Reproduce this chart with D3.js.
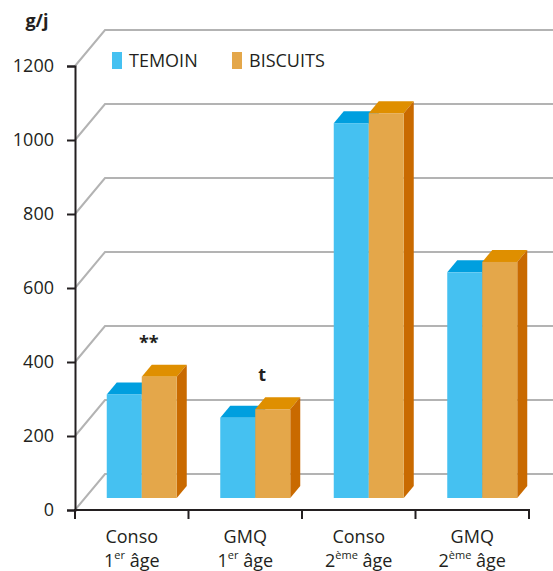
<!DOCTYPE html>
<html>
<head>
<meta charset="utf-8">
<script src="https://cdn.jsdelivr.net/npm/d3@7"></script>
<style>
  body { margin: 0; background: white; }
  text { font-family: 'Open Sans', sans-serif; fill: #231f20; }
</style>
</head>
<body>
<div id="chart"></div>
<script>
// chart data
const catLine1 = ['Conso', 'GMQ', 'Conso', 'GMQ'];
const catNum = ['1', '1', '2', '2'];
const catSup = ['er', 'er', 'ème', 'ème'];
const series = ['TEMOIN', 'BISCUITS'];
const temoin = [280, 217, 1013, 610];
const biscuits = [328, 240, 1040, 638];
const marks = ['**', 't', '', ''];
const yTicks = [0, 200, 400, 600, 800, 1000, 1200];

const width = 553;
const height = 571;
const left = 75;
const right = 529;
const wallDx = 30;
const wallDy = -36;
const barDx = 10;
const barDy = -12;

const colors = {
  TEMOIN: { front: '#45c1f1', top: '#009fdf', side: '#0088c4' },
  BISCUITS: { front: '#e4a74a', top: '#df8f00', side: '#c96a00' }
};

const svg = d3.select('#chart').append('svg')
  .attr('width', width)
  .attr('height', height);

const y = d3.scaleLinear().domain([0, 1200]).range([510, 66]);
const x = d3.scaleBand().domain(d3.range(catLine1.length)).range([left, right]);
const xs = d3.scaleBand().domain(series).range([0, 70]);

// back wall grid
const grid = svg.append('g')
  .attr('stroke', '#b3b3b3')
  .attr('stroke-width', 2)
  .attr('fill', 'none');
for (const t of yTicks) {
  grid.append('path')
    .attr('d', `M${left},${y(t)} L${left + wallDx},${y(t) + wallDy} L${width},${y(t) + wallDy}`);
}

// bars
const values = { TEMOIN: temoin, BISCUITS: biscuits };
const bars = svg.append('g');

function poly(pts) {
  return 'M' + pts.map((p) => p.join(',')).join('L') + 'Z';
}

catLine1.forEach((c, i) => {
  const gx = x(i) + (x.bandwidth() - 70) / 2 + barDx;
  for (const s of series) {
    const x0 = gx + xs(s);
    const x1 = x0 + xs.bandwidth();
    const yb = y(0) + barDy;
    const yt = y(values[s][i]) + barDy;
    bars.append('path')
      .attr('d', poly([[x0, yt], [x0 + barDx, yt + barDy], [x1 + barDx, yt + barDy], [x1, yt]]))
      .attr('fill', colors[s].top);
    bars.append('path')
      .attr('d', poly([[x1, yt], [x1 + barDx, yt + barDy], [x1 + barDx, yb + barDy], [x1, yb]]))
      .attr('fill', colors[s].side);
    bars.append('rect')
      .attr('x', x0)
      .attr('y', yt)
      .attr('width', xs.bandwidth())
      .attr('height', yb - yt)
      .attr('fill', colors[s].front);
  }
  if (marks[i]) {
    const top = y(Math.max(temoin[i], biscuits[i])) + barDy * 2;
    svg.append('text')
      .attr('x', gx + 42)
      .attr('y', top - 16)
      .attr('text-anchor', 'middle')
      .attr('font-size', 18)
      .attr('font-weight', 'bold')
      .text(marks[i]);
  }
});

// y axis
const yAxis = svg.append('g')
  .attr('transform', `translate(${left},0)`)
  .call(d3.axisLeft(y).tickValues(yTicks).tickSize(8).tickPadding(13).tickFormat(d3.format('d')));
yAxis.select('.domain').attr('stroke', '#231f20').attr('stroke-width', 2);
yAxis.selectAll('.tick line').attr('stroke', '#231f20').attr('stroke-width', 2);
yAxis.selectAll('.tick text')
  .attr('font-family', "'Open Sans', sans-serif")
  .attr('font-size', 18)
  .attr('fill', '#231f20');

// x axis
const xAxis = svg.append('g')
  .attr('stroke', '#231f20')
  .attr('stroke-width', 2);
xAxis.append('line')
  .attr('x1', left - 1).attr('x2', right + 1)
  .attr('y1', y(0)).attr('y2', y(0));
const xTicks = d3.range(catLine1.length).map((i) => x(i)).concat([right]);
for (const t of xTicks) {
  xAxis.append('line')
    .attr('x1', t).attr('x2', t)
    .attr('y1', y(0)).attr('y2', y(0) + 9);
}

catLine1.forEach((c, i) => {
  const cx = x(i) + x.bandwidth() / 2;
  svg.append('text')
    .attr('x', cx)
    .attr('y', 543)
    .attr('text-anchor', 'middle')
    .attr('font-size', 18)
    .text(c);
  const t = svg.append('text')
    .attr('x', cx)
    .attr('y', 567)
    .attr('text-anchor', 'middle')
    .attr('font-size', 18);
  t.append('tspan').text(catNum[i]);
  t.append('tspan').attr('font-size', 11).attr('dy', -8).text(catSup[i]);
  t.append('tspan').attr('dy', 8).text(' âge');
});

// unit label
svg.append('text')
  .attr('x', 37)
  .attr('y', 27)
  .attr('text-anchor', 'middle')
  .attr('font-size', 18)
  .attr('font-weight', 'bold')
  .text('g/j');

// legend
const legendX = [112, 232];
series.forEach((s, i) => {
  svg.append('rect')
    .attr('x', legendX[i])
    .attr('y', 52)
    .attr('width', 10)
    .attr('height', 17)
    .attr('fill', colors[s].front);
  svg.append('text')
    .attr('x', legendX[i] + 17)
    .attr('y', 67)
    .attr('font-size', 18)
    .text(s);
});
</script>
</body>
</html>
